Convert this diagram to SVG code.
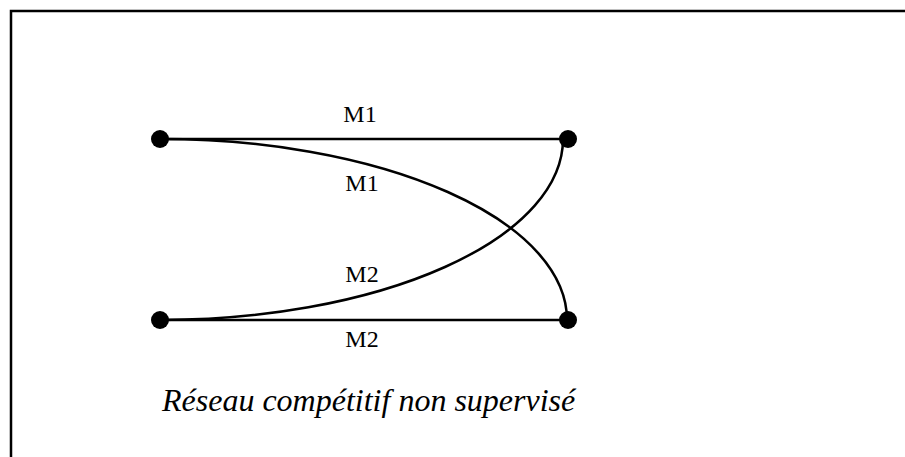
<svg xmlns="http://www.w3.org/2000/svg" width="905" height="457" viewBox="0 0 905 457">
<style>
.frame{fill:none;stroke:#000;stroke-width:2.5}
.edge{fill:none;stroke:#000;stroke-width:2.5}
.node{fill:#000}
.lbl{font-family:"Liberation Serif","Times New Roman",serif;font-size:24px;fill:#000;text-anchor:middle}
.cap{font-family:"Liberation Serif","Times New Roman",serif;font-size:32px;font-style:italic;fill:#000}
</style>
<rect width="905" height="457" fill="#fff"/>
<path class="frame" d="M11 457 V11 H905"/>
<g id="connectors">
<path class="edge" d="M160 139 H568"/>
<path class="edge" d="M160 320 H568"/>
<path class="edge" d="M160 139 A407 181 0 0 1 567 320"/>
<path class="edge" d="M160 320 A403 181 0 0 0 563 139"/>
</g>
<g id="n1"><circle class="node" cx="160" cy="139" r="9"/></g>
<g id="n2"><circle class="node" cx="568" cy="139" r="9"/></g>
<g id="n3"><circle class="node" cx="160" cy="320" r="9"/></g>
<g id="n4"><circle class="node" cx="568" cy="320" r="9"/></g>
<g id="labels">
<text class="lbl" x="360" y="122">M1</text>
<text class="lbl" x="362" y="191">M1</text>
<text class="lbl" x="362" y="282">M2</text>
<text class="lbl" x="362" y="347">M2</text>
</g>
<text class="cap" x="162" y="411">Réseau compétitif non supervisé</text>
</svg>
